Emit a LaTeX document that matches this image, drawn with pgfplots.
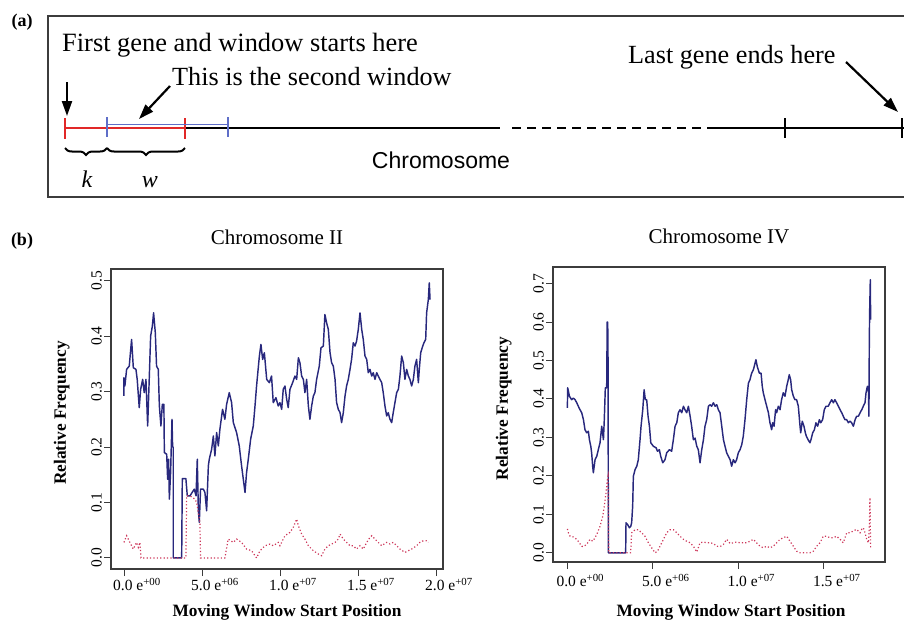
\documentclass[border=0pt]{standalone}
\usepackage{pgfplots}
\pgfplotsset{compat=1.18}
\usepackage{fontspec}
\setmainfont{Liberation Serif}
\newfontfamily\sansf{Liberation Sans}
\usetikzlibrary{arrows.meta,decorations.pathreplacing}

\definecolor{rblue}{RGB}{40,40,125}
\definecolor{rred}{RGB}{205,55,90}
\definecolor{fgray}{RGB}{60,60,60}
\definecolor{winblue}{RGB}{95,110,200}
\definecolor{winred}{RGB}{225,40,40}

\pgfplotsset{rstyle/.style={
  scale only axis, anchor=south west,
  axis line style={draw=fgray, line width=1.6pt},
  tick style={draw=fgray, line width=0.9pt},
  major tick length=7pt, tick align=outside,
  xtick pos=left, ytick pos=left,
  /pgf/number format/assume math mode=true,
  ticklabel style={font=\fontsize{15.5}{18}\selectfont},
  yticklabel style={rotate=90, anchor=south, inner sep=2pt},
  xticklabel style={anchor=north, inner sep=2pt, xshift=13pt},
  title style={font=\fontsize{21}{24}\selectfont, anchor=base, at={(0.5,1)}, yshift=19pt},
  ylabel style={font=\bfseries\fontsize{17.3}{20}\selectfont, anchor=base, at={(-0.136,0.52)}},
  xlabel={Moving Window Start Position},
  ylabel={Relative Frequency},
  bline/.style={rblue, line width=1.45pt, line join=round},
  rline/.style={rred, line width=1.2pt, dash pattern=on 1.2pt off 2.2pt},
}}

\begin{document}
\begin{tikzpicture}
% ---------------- panel (a) ----------------
\begin{scope}[x=1pt,y=-1pt]
\node[font=\bfseries\fontsize{18}{20}\selectfont] at (22,22) {(a)};
\node[font=\bfseries\fontsize{18}{20}\selectfont] at (22,241) {(b)};
\draw[fgray, line width=2pt] (906,16) -- (48,16) -- (48,197) -- (906,197);
% chromosome line
\draw[black, line width=2.2pt] (185,128) -- (500,128);
\draw[black, line width=2.2pt, dash pattern=on 9pt off 6pt] (512,128) -- (712,128);
\draw[black, line width=2.2pt] (712,128) -- (906,128);
\draw[black, line width=1.8pt] (785,118) -- (785,138);
\draw[black, line width=1.8pt] (902,118) -- (902,138);
% red window
\draw[winred, line width=2pt] (65,128) -- (185,128);
\draw[winred, line width=1.6pt] (65,118) -- (65,139);
\draw[winred, line width=1.6pt] (185,118) -- (185,139);
% blue window
\draw[winblue, line width=1.8pt] (107,124.5) -- (228,124.5);
\draw[winblue, line width=1.6pt] (107,117) -- (107,137);
\draw[winblue, line width=1.6pt] (228,117) -- (228,137);
% braces
\draw[black, line width=2pt, decorate, decoration={brace, mirror, amplitude=7pt}] (65,148) -- (107,148);
\draw[black, line width=2pt, decorate, decoration={brace, mirror, amplitude=7pt}] (107,148) -- (185,148);
\node[font=\itshape\fontsize{24}{26}\selectfont, anchor=base] at (87,187) {k};
\node[font=\itshape\fontsize{24}{26}\selectfont, anchor=base] at (150,187) {w};
\node[font=\sansf\fontsize{23}{26}\selectfont, anchor=base] at (441,168) {Chromosome};
% texts
\node[font=\fontsize{26.4}{30}\selectfont, anchor=base west, inner sep=0pt] at (62,51) {First gene and window starts here};
\node[font=\fontsize{26.2}{30}\selectfont, anchor=base west, inner sep=0pt] at (172,85) {This is the second window};
\node[font=\fontsize{26.2}{30}\selectfont, anchor=base west, inner sep=0pt] at (628,63) {Last gene ends here};
% arrows
\draw[black, line width=2.2pt, -{Triangle[length=15pt,width=10pt]}] (67,82) -- (67,116);
\draw[black, line width=2.2pt, -{Triangle[length=15pt,width=10pt]}] (170,86) -- (139,119);
\draw[black, line width=2.2pt, -{Triangle[length=15pt,width=10pt]}] (846,62) -- (898,112);
\end{scope}

% ---------------- panel (b) left ----------------
\begin{axis}[rstyle, at={(111pt,-569pt)}, width=332pt, height=300pt,
  xmin=-0.83, xmax=20.45, ymin=-0.02, ymax=0.521,
  xtick={0,5,10,15,20},
  xticklabels={0.0 e\textsuperscript{+00},5.0 e\textsuperscript{+06},1.0 e\textsuperscript{+07},1.5 e\textsuperscript{+07},2.0 e\textsuperscript{+07}},
  ytick={0,0.1,0.2,0.3,0.4,0.5},
  yticklabels={0.0,0.1,0.2,0.3,0.4,0.5},
  title={Chromosome II},
  xlabel style={font=\bfseries\fontsize{17.3}{20}\selectfont, anchor=base, at={(0.5,0)}, yshift=-47pt, xshift=10pt},
]
\addplot[bline] table {
x y
0.00 0.292
0.00 0.325
0.06 0.310
0.17 0.340
0.34 0.346
0.49 0.394
0.60 0.343
0.77 0.340
0.85 0.322
0.98 0.271
1.07 0.304
1.20 0.322
1.30 0.298
1.41 0.322
1.52 0.238
1.62 0.322
1.71 0.400
1.82 0.418
1.90 0.442
2.01 0.406
2.09 0.346
2.20 0.340
2.27 0.274
2.37 0.238
2.46 0.277
2.56 0.277
2.59 0.190
2.74 0.187
2.80 0.142
2.86 0.178
2.91 0.106
2.99 0.154
3.08 0.250
3.12 0.200
3.16 0.200
3.16 0.000
3.70 0.000
3.74 0.143
3.97 0.143
4.06 0.112
4.23 0.112
4.51 0.124
4.62 0.112
4.70 0.178
4.77 0.085
4.83 0.064
4.91 0.124
5.09 0.124
5.19 0.118
5.30 0.085
5.41 0.166
5.47 0.178
5.62 0.196
5.73 0.220
5.83 0.184
5.94 0.226
6.05 0.202
6.15 0.232
6.32 0.268
6.47 0.250
6.58 0.277
6.75 0.298
6.90 0.280
7.01 0.244
7.22 0.226
7.39 0.202
7.54 0.166
7.65 0.142
7.76 0.118
7.86 0.154
7.97 0.178
8.12 0.214
8.29 0.238
8.40 0.274
8.50 0.310
8.68 0.364
8.78 0.385
8.89 0.358
9.00 0.370
9.15 0.322
9.32 0.316
9.46 0.328
9.57 0.280
9.74 0.289
9.89 0.274
10.00 0.280
10.11 0.268
10.21 0.304
10.32 0.310
10.43 0.286
10.53 0.271
10.64 0.304
10.81 0.316
10.96 0.328
11.07 0.322
11.18 0.361
11.28 0.352
11.39 0.328
11.50 0.322
11.60 0.298
11.71 0.322
11.82 0.274
11.92 0.250
12.03 0.274
12.14 0.292
12.24 0.298
12.35 0.322
12.52 0.346
12.63 0.379
12.78 0.382
12.88 0.439
12.99 0.424
13.10 0.412
13.21 0.370
13.31 0.352
13.42 0.346
13.53 0.322
13.63 0.280
13.74 0.268
13.85 0.262
13.95 0.244
14.06 0.262
14.17 0.292
14.27 0.310
14.38 0.322
14.49 0.340
14.59 0.358
14.70 0.388
14.81 0.382
14.91 0.391
15.02 0.412
15.13 0.442
15.24 0.412
15.34 0.394
15.45 0.364
15.56 0.358
15.66 0.334
15.77 0.340
15.88 0.328
15.98 0.334
16.09 0.322
16.20 0.334
16.30 0.328
16.41 0.322
16.52 0.316
16.62 0.298
16.73 0.274
16.84 0.256
16.94 0.262
17.05 0.250
17.16 0.244
17.26 0.262
17.37 0.280
17.48 0.298
17.59 0.304
17.69 0.328
17.80 0.364
17.91 0.352
18.01 0.322
18.12 0.340
18.23 0.328
18.33 0.322
18.44 0.310
18.55 0.322
18.65 0.346
18.76 0.358
18.87 0.316
18.93 0.340
19.02 0.370
19.15 0.382
19.23 0.388
19.34 0.394
19.40 0.442
19.51 0.466
19.57 0.496
19.62 0.466
};
\addplot[rline] table {
x y
0.00 0.028
0.17 0.040
0.38 0.028
0.60 0.016
0.81 0.028
0.92 0.019
1.03 0.028
1.09 0.000
3.97 0.000
4.02 0.112
4.23 0.112
4.55 0.106
4.66 0.100
4.87 0.064
4.91 0.000
6.47 0.000
6.68 0.034
7.01 0.028
7.22 0.034
7.54 0.028
7.86 0.016
8.18 0.013
8.50 0.000
8.72 0.013
9.04 0.022
9.36 0.025
9.57 0.022
9.89 0.028
10.00 0.022
10.32 0.040
10.64 0.046
10.85 0.055
11.07 0.070
11.18 0.058
11.39 0.043
11.60 0.034
11.82 0.022
12.14 0.013
12.46 0.007
12.67 0.004
12.88 0.016
13.10 0.022
13.31 0.025
13.53 0.028
13.74 0.034
13.85 0.043
14.06 0.034
14.27 0.028
14.49 0.022
14.70 0.022
14.91 0.016
15.13 0.022
15.34 0.016
15.56 0.028
15.77 0.037
15.88 0.040
16.09 0.034
16.30 0.028
16.52 0.022
16.84 0.028
17.05 0.025
17.26 0.028
17.48 0.022
17.69 0.016
18.01 0.010
18.23 0.013
18.44 0.016
18.76 0.022
18.97 0.028
19.19 0.031
19.40 0.031
19.51 0.028
};
\end{axis}

% ---------------- panel (b) right ----------------
\begin{axis}[rstyle, at={(553pt,-562pt)}, width=332pt, height=295pt,
  xmin=-0.84, xmax=18.58, ymin=-0.024, ymax=0.743,
  xtick={0,5,10,15},
  xticklabels={0.0 e\textsuperscript{+00},5.0 e\textsuperscript{+06},1.0 e\textsuperscript{+07},1.5 e\textsuperscript{+07}},
  xticklabel style={inner sep=5pt},
  ytick={0,0.1,0.2,0.3,0.4,0.5,0.6,0.7},
  yticklabels={0.0,0.1,0.2,0.3,0.4,0.5,0.6,0.7},
  title={Chromosome IV},
  title style={yshift=-1pt},
  xlabel style={font=\bfseries\fontsize{17.3}{20}\selectfont, anchor=base, at={(0.5,0)}, yshift=-54pt, xshift=12pt},
]
\addplot[bline] table {
x y
0.00 0.377
0.02 0.429
0.12 0.407
0.25 0.398
0.35 0.402
0.45 0.398
0.55 0.390
0.64 0.381
0.74 0.372
0.84 0.364
0.94 0.346
1.03 0.320
1.13 0.312
1.23 0.316
1.29 0.294
1.37 0.277
1.42 0.260
1.48 0.225
1.52 0.208
1.62 0.242
1.72 0.251
1.81 0.268
1.91 0.286
2.01 0.329
2.11 0.294
2.16 0.346
2.22 0.429
2.30 0.429
2.33 0.600
2.36 0.600
2.38 0.500
2.40 0.000
3.41 0.000
3.43 0.078
3.53 0.073
3.63 0.065
3.71 0.069
3.76 0.078
3.82 0.121
3.86 0.199
3.96 0.216
4.06 0.225
4.15 0.242
4.25 0.294
4.31 0.329
4.41 0.372
4.49 0.424
4.56 0.398
4.64 0.398
4.72 0.355
4.80 0.329
4.88 0.286
5.03 0.277
5.19 0.273
5.27 0.264
5.38 0.268
5.46 0.251
5.58 0.234
5.71 0.242
5.81 0.260
5.97 0.268
6.10 0.264
6.20 0.294
6.30 0.329
6.40 0.338
6.49 0.364
6.59 0.372
6.69 0.364
6.79 0.381
6.88 0.372
6.98 0.364
7.08 0.381
7.18 0.355
7.27 0.329
7.37 0.294
7.47 0.298
7.57 0.277
7.66 0.268
7.76 0.234
7.86 0.268
7.96 0.294
8.05 0.329
8.15 0.346
8.25 0.381
8.35 0.385
8.44 0.381
8.54 0.390
8.64 0.381
8.74 0.385
8.83 0.372
8.93 0.364
9.03 0.329
9.13 0.294
9.22 0.277
9.32 0.260
9.42 0.251
9.52 0.242
9.61 0.225
9.71 0.242
9.81 0.234
9.90 0.242
10.00 0.260
10.10 0.268
10.20 0.281
10.29 0.303
10.39 0.346
10.49 0.398
10.59 0.441
10.68 0.450
10.78 0.467
10.88 0.476
10.98 0.493
11.03 0.502
11.11 0.484
11.23 0.467
11.33 0.467
11.40 0.433
11.46 0.416
11.56 0.398
11.66 0.381
11.76 0.364
11.85 0.338
11.95 0.320
12.01 0.338
12.09 0.329
12.18 0.372
12.24 0.364
12.34 0.381
12.44 0.372
12.53 0.398
12.63 0.416
12.73 0.407
12.83 0.433
12.92 0.450
12.98 0.463
13.06 0.450
13.12 0.424
13.22 0.407
13.31 0.398
13.41 0.398
13.51 0.381
13.61 0.329
13.65 0.312
13.74 0.342
13.84 0.329
13.92 0.312
13.98 0.303
14.08 0.294
14.19 0.286
14.25 0.294
14.35 0.312
14.45 0.320
14.54 0.338
14.64 0.329
14.74 0.346
14.82 0.338
14.93 0.346
15.03 0.372
15.13 0.381
15.26 0.381
15.36 0.390
15.46 0.398
15.56 0.390
15.65 0.398
15.75 0.390
15.85 0.381
15.95 0.372
16.05 0.364
16.14 0.355
16.24 0.346
16.34 0.346
16.44 0.338
16.53 0.342
16.63 0.338
16.73 0.329
16.83 0.346
16.92 0.355
17.02 0.355
17.12 0.364
17.22 0.372
17.31 0.381
17.41 0.390
17.47 0.416
17.55 0.433
17.61 0.424
17.64 0.355
17.66 0.537
17.68 0.623
17.72 0.710
17.74 0.606
};
\addplot[rline] table {
x y
0.00 0.062
0.06 0.052
0.16 0.043
0.35 0.041
0.55 0.035
0.70 0.026
0.84 0.017
0.94 0.016
1.13 0.022
1.33 0.035
1.48 0.030
1.62 0.039
1.76 0.052
1.91 0.069
2.07 0.095
2.16 0.121
2.26 0.156
2.34 0.190
2.38 0.199
2.42 0.000
3.70 0.000
3.76 0.052
3.96 0.060
4.15 0.060
4.35 0.052
4.54 0.043
4.74 0.026
4.93 0.013
5.13 0.000
5.27 0.004
5.42 0.017
5.62 0.035
5.81 0.052
6.00 0.060
6.20 0.060
6.40 0.052
6.59 0.043
6.79 0.035
6.98 0.030
7.18 0.026
7.37 0.017
7.57 0.002
7.76 0.026
7.96 0.028
8.15 0.026
8.35 0.026
8.54 0.024
8.74 0.017
8.93 0.016
9.13 0.022
9.32 0.035
9.52 0.024
9.71 0.026
9.91 0.028
10.10 0.026
10.49 0.026
10.68 0.030
10.88 0.035
11.07 0.026
11.27 0.017
11.46 0.013
11.66 0.017
11.85 0.013
12.05 0.017
12.24 0.026
12.44 0.035
12.63 0.039
12.83 0.043
13.02 0.030
13.22 0.017
13.41 0.004
13.61 0.000
14.19 0.000
14.39 0.004
14.58 0.017
14.78 0.026
14.97 0.043
15.17 0.043
15.36 0.039
15.56 0.039
15.75 0.043
15.95 0.035
16.14 0.026
16.34 0.052
16.53 0.052
16.73 0.057
16.92 0.061
17.12 0.052
17.22 0.061
17.31 0.065
17.41 0.052
17.51 0.035
17.61 0.026
17.66 0.065
17.70 0.143
17.74 0.009
};
\end{axis}

\pgfresetboundingbox
\path[use as bounding box] (0pt,0pt) rectangle (904pt,-619pt);
\end{tikzpicture}
\end{document}
